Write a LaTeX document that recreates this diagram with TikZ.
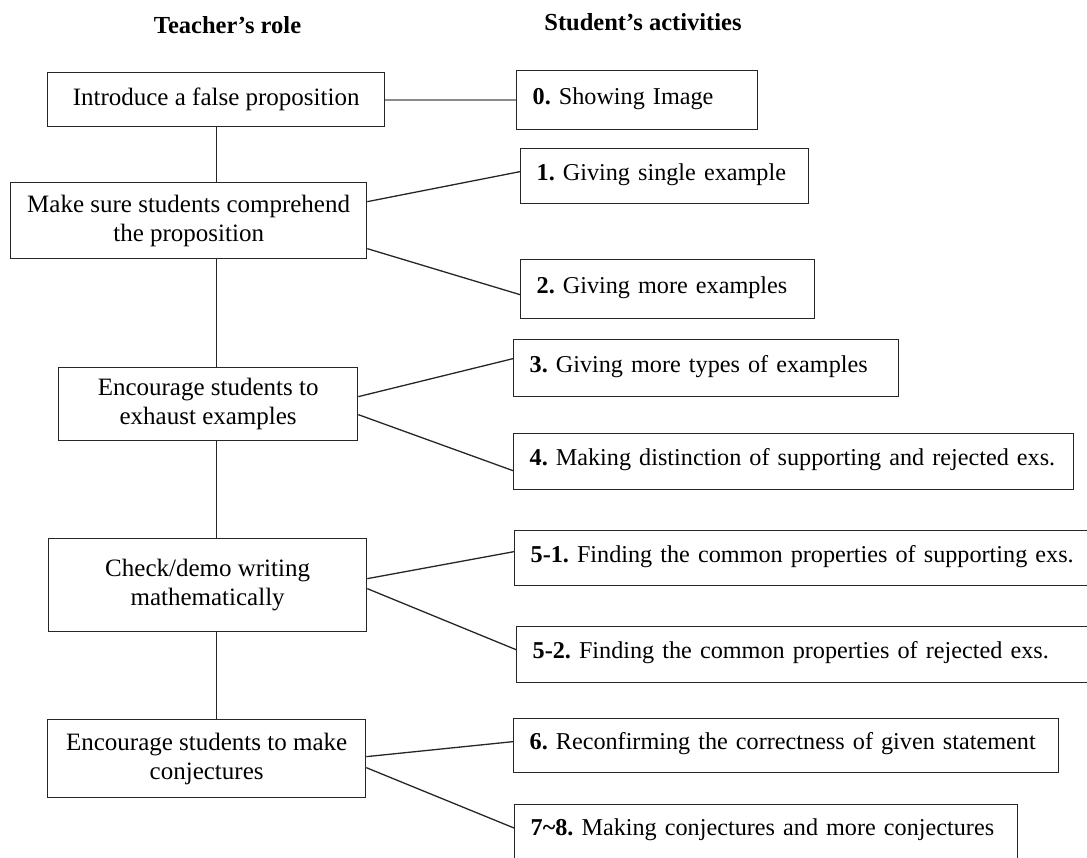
\documentclass[tikz,border=0pt]{standalone}
\usepackage{fontspec}
\setmainfont{Liberation Serif}
\frenchspacing
\begin{document}
\begin{tikzpicture}[x=1pt,y=-1pt,
  every node/.style={font=\fontsize{25}{29}\selectfont\frenchspacing},
  lbox/.style={draw=black!85, line width=1.3pt, anchor=north west, align=center, inner sep=0pt},
  rbox/.style={draw=black!85, line width=1.3pt, anchor=north west, align=left, inner xsep=16pt, inner ysep=0pt, text height=15pt, text depth=7pt, font=\fontsize{24.2}{27}\selectfont\frenchspacing},
  hdr/.style={font=\fontsize{24.5}{27}\selectfont\bfseries, anchor=base},
  conn/.style={draw=black!85, line width=1.3pt},
  grayconn/.style={draw=black!45, line width=2pt}
]
\clip (0,0) rectangle (1087,858);

% headers
\node[hdr] (h1) at (227.5,34) {Teacher’s role};
\node[hdr] (h2) at (643,31) {Student’s activities};

% left column
\node[lbox, minimum width=337pt, minimum height=54pt] (L0) at (47,72) {Introduce a false proposition};
\node[lbox, minimum width=356pt, minimum height=76pt] (L1) at (10,182) {Make sure students comprehend\\the proposition};
\node[lbox, minimum width=299pt, minimum height=73pt] (L2) at (58,367) {Encourage students to\\exhaust examples};
\node[lbox, minimum width=318pt, minimum height=93pt] (L3) at (48,538) {Check/demo writing\\mathematically};
\node[lbox, minimum width=318pt, minimum height=78pt] (L4) at (47,719) {Encourage students to make\\conjectures};

% right column
\node[rbox, text width=209pt, minimum height=59pt] (R0) at (516,70) {\mbox{\textbf{0.} Showing Image}};
\node[rbox, text width=256pt, minimum height=55pt] (R1) at (520,148) {\mbox{\textbf{1.} Giving single example}};
\node[rbox, text width=262pt, minimum height=59pt] (R2) at (520,259) {\mbox{\textbf{2.} Giving more examples}};
\node[rbox, text width=353pt, minimum height=57pt] (R3) at (513,339) {\mbox{\textbf{3.} Giving more types of examples}};
\node[rbox, text width=528pt, minimum height=56pt] (R4) at (513,433) {\mbox{\textbf{4.} Making distinction of supporting and rejected exs.}};
\node[rbox, text width=553pt, minimum height=55pt] (R51) at (514,530) {\mbox{\textbf{5-1.} Finding the common properties of supporting exs.}};
\node[rbox, text width=553pt, minimum height=56pt] (R52) at (516,626) {\mbox{\textbf{5-2.} Finding the common properties of rejected exs.}};
\node[rbox, text width=513pt, minimum height=54pt] (R6) at (513,718) {\mbox{\textbf{6.} Reconfirming the correctness of given statement}};
\node[rbox, text width=471pt, minimum height=66pt, text depth=19pt] (R78) at (514,804) {\mbox{\textbf{7\textasciitilde 8.} Making conjectures and more conjectures}};

% vertical spine
\draw[conn] (L0.south) -- (L0.south |- L1.north);
\draw[conn] (L0.south |- L1.south) -- (L0.south |- L2.north);
\draw[conn] (L0.south |- L2.south) -- (L0.south |- L3.north);
\draw[conn] (L0.south |- L3.south) -- (L0.south |- L4.north);

% connectors to student activities
\draw[grayconn] (L0.east) -- (L0.east -| R0.west);
\draw[conn] ([yshift=19pt]L1.east) -- ([yshift=4.5pt]R1.west);
\draw[conn] ([yshift=-28pt]L1.east) -- ([yshift=-5.5pt]R2.west);
\draw[conn] ([yshift=7.5pt]L2.east) -- ([yshift=9.5pt]R3.west);
\draw[conn] ([yshift=-10.5pt]L2.east) -- ([yshift=-9pt]R4.west);
\draw[conn] ([yshift=6.5pt]L3.east) -- ([yshift=6.5pt]R51.west);
\draw[conn] ([yshift=-3.5pt]L3.east) -- ([yshift=5pt]R52.west);
\draw[conn] ([yshift=2pt]L4.east) -- ([yshift=4pt]R6.west);
\draw[conn] ([yshift=-9pt]L4.east) -- ([yshift=-24pt]R78.north west);
\end{tikzpicture}
\end{document}
